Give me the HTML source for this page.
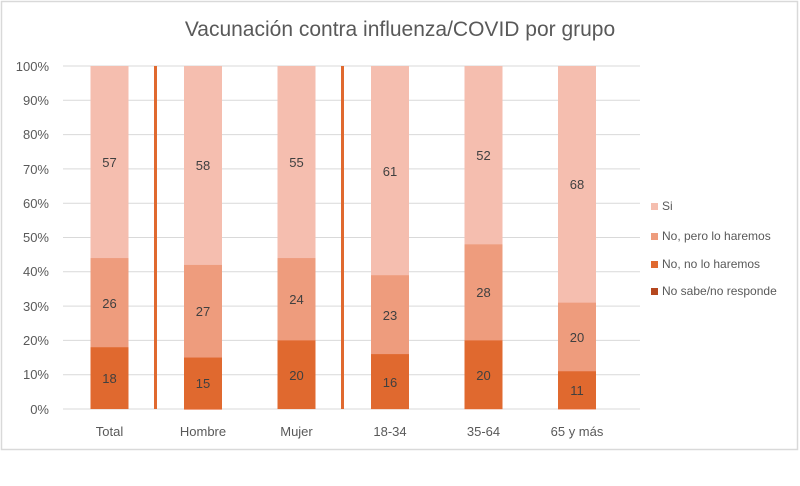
<!DOCTYPE html>
<html><head><meta charset="utf-8"><style>
body{margin:0;background:#fff;}
svg{display:block;font-family:"Liberation Sans",sans-serif;}
</style></head><body>
<svg width="800" height="486" viewBox="0 0 800 486">
<rect x="1.5" y="1.5" width="796" height="448" fill="#fff" stroke="#d9d9d9" stroke-width="1.5"/>
<text x="400" y="36" text-anchor="middle" font-size="21" fill="#595959">Vacunación contra influenza/COVID por grupo</text>
<g stroke="#d9d9d9" stroke-width="1">
<line x1="63" x2="640" y1="66" y2="66"/><line x1="63" x2="640" y1="100.3" y2="100.3"/><line x1="63" x2="640" y1="134.6" y2="134.6"/><line x1="63" x2="640" y1="168.9" y2="168.9"/><line x1="63" x2="640" y1="203.2" y2="203.2"/><line x1="63" x2="640" y1="237.5" y2="237.5"/><line x1="63" x2="640" y1="271.8" y2="271.8"/><line x1="63" x2="640" y1="306.1" y2="306.1"/><line x1="63" x2="640" y1="340.4" y2="340.4"/><line x1="63" x2="640" y1="374.7" y2="374.7"/><line x1="63" x2="640" y1="409" y2="409"/>
</g>
<g font-size="13" fill="#595959" text-anchor="end">
<text x="49" y="71">100%</text><text x="49" y="105">90%</text><text x="49" y="139">80%</text><text x="49" y="174">70%</text><text x="49" y="208">60%</text><text x="49" y="242">50%</text><text x="49" y="276">40%</text><text x="49" y="311">30%</text><text x="49" y="345">20%</text><text x="49" y="379">10%</text><text x="49" y="414">0%</text>
</g>
<g fill="#F5BEAF">
<rect x="90.5" y="66" width="38" height="343"/><rect x="184" y="66" width="38" height="343"/><rect x="277.5" y="66" width="38" height="343"/><rect x="371" y="66" width="38" height="343"/><rect x="464.5" y="66" width="38" height="343"/><rect x="558" y="66" width="38" height="343"/>
</g>
<g fill="#EE9C7D">
<rect x="90.5" y="258.08" width="38" height="151"/><rect x="184" y="264.94" width="38" height="145"/><rect x="277.5" y="258.08" width="38" height="151"/><rect x="371" y="275.23" width="38" height="134"/><rect x="464.5" y="244.36" width="38" height="165"/><rect x="558" y="302.67" width="38" height="107"/>
</g>
<g fill="#E0692F">
<rect x="90.5" y="347.26" width="38" height="61.74"/><rect x="184" y="357.55" width="38" height="51.45"/><rect x="277.5" y="340.4" width="38" height="68.6"/><rect x="371" y="354.12" width="38" height="54.88"/><rect x="464.5" y="340.4" width="38" height="68.6"/><rect x="558" y="371.27" width="38" height="37.73"/>
</g>
<g font-size="13" fill="#404040" text-anchor="middle">
<text x="109.5" y="383">18</text><text x="109.5" y="308">26</text><text x="109.5" y="167">57</text>
<text x="203" y="388">15</text><text x="203" y="316">27</text><text x="203" y="170">58</text>
<text x="296.5" y="380">20</text><text x="296.5" y="304">24</text><text x="296.5" y="167">55</text>
<text x="390" y="387">16</text><text x="390" y="320">23</text><text x="390" y="176">61</text>
<text x="483.5" y="380">20</text><text x="483.5" y="297">28</text><text x="483.5" y="160">52</text>
<text x="577" y="395">11</text><text x="577" y="342">20</text><text x="577" y="189">68</text>
</g>
<rect x="154" y="66" width="3" height="343" fill="#E0692F"/>
<rect x="341" y="66" width="3" height="343" fill="#E0692F"/>
<g font-size="13" fill="#595959" text-anchor="middle">
<text x="109.5" y="436">Total</text><text x="203" y="436">Hombre</text><text x="296.5" y="436">Mujer</text><text x="390" y="436">18-34</text><text x="483.5" y="436">35-64</text><text x="577" y="436">65 y más</text>
</g>
<g font-size="12" fill="#595959">
<rect x="651" y="203" width="7" height="7" fill="#F5BEAF"/><text x="662" y="210">Si</text>
<rect x="651" y="233" width="7" height="7" fill="#EE9C7D"/><text x="662" y="240">No, pero lo haremos</text>
<rect x="651" y="261" width="7" height="7" fill="#E0692F"/><text x="662" y="268">No, no lo haremos</text>
<rect x="651" y="288" width="7" height="7" fill="#B5471E"/><text x="662" y="295">No sabe/no responde</text>
</g>
</svg>
</body></html>
